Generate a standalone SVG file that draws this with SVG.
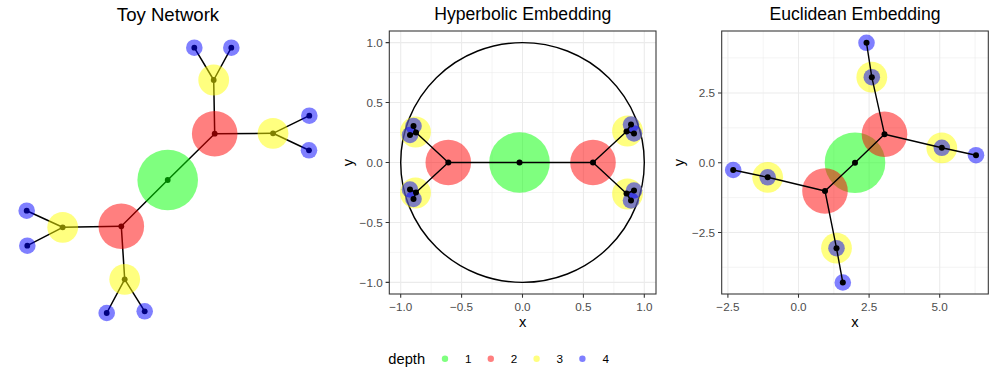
<svg xmlns="http://www.w3.org/2000/svg" width="996" height="378" viewBox="0 0 996 378">
<defs>
<style>
text{font-family:"Liberation Sans",Arial,sans-serif}
.title{font-size:17.6px;fill:#000;text-anchor:middle}
.tick{font-size:11.7px;fill:#4d4d4d}
.tx{text-anchor:middle}
.ty{text-anchor:end}
.atitle{font-size:14.7px;fill:#000;text-anchor:middle}
.leg{font-size:11.7px;fill:#000}
.gmaj{stroke:#ebebeb;stroke-width:1.07;fill:none}
.gmin{stroke:#ebebeb;stroke-width:0.53;fill:none}
.border{stroke:#333333;stroke-width:1.07;fill:none}
.tk{stroke:#333333;stroke-width:1.07}
.d1{fill:#00ff00;fill-opacity:0.5}
.d2{fill:#ff0000;fill-opacity:0.5}
.d3{fill:#ffff00;fill-opacity:0.5}
.d4{fill:#0000ff;fill-opacity:0.5}
.pt{fill:#000}
.edge{stroke:#000;stroke-width:1.4;fill:none;stroke-linecap:round}
</style>
</defs>
<rect width="996" height="378" fill="#fff"/>

<!-- ============ Toy Network ============ -->
<text class="title" x="168" y="20.7" style="font-size:18.6px">Toy Network</text>
<g id="toy-edges" class="edge" style="stroke-width:1.5">
<line x1="167.7" y1="180" x2="214.7" y2="133.7"/>
<line x1="167.7" y1="180" x2="121.3" y2="226.3"/>
<line x1="214.7" y1="133.7" x2="213.7" y2="80"/>
<line x1="214.7" y1="133.7" x2="273" y2="133.3"/>
<line x1="121.3" y1="226.3" x2="62.7" y2="227.3"/>
<line x1="121.3" y1="226.3" x2="124.7" y2="279.3"/>
<line x1="213.7" y1="80" x2="194.3" y2="47.7"/>
<line x1="213.7" y1="80" x2="231.3" y2="47.7"/>
<line x1="273" y1="133.3" x2="309.3" y2="115.7"/>
<line x1="273" y1="133.3" x2="309" y2="150.3"/>
<line x1="62.7" y1="227.3" x2="26.7" y2="210.7"/>
<line x1="62.7" y1="227.3" x2="27.3" y2="245.7"/>
<line x1="124.7" y1="279.3" x2="106.7" y2="313"/>
<line x1="124.7" y1="279.3" x2="144.7" y2="311.3"/>
</g>
<g id="toy-nodes">
<g id="toy-n1"><circle class="pt" cx="167.7" cy="180" r="2.9"/><circle class="d1" cx="167.7" cy="180" r="30.3"/></g>
<g id="toy-n2"><circle class="pt" cx="214.7" cy="133.7" r="2.9"/><circle class="d2" cx="214.7" cy="133.7" r="22.8"/></g>
<g id="toy-n3"><circle class="pt" cx="121.3" cy="226.3" r="2.9"/><circle class="d2" cx="121.3" cy="226.3" r="22.8"/></g>
<g id="toy-n4"><circle class="pt" cx="213.7" cy="80" r="2.9"/><circle class="d3" cx="213.7" cy="80" r="15.4"/></g>
<g id="toy-n5"><circle class="pt" cx="273" cy="133.3" r="2.9"/><circle class="d3" cx="273" cy="133.3" r="15.4"/></g>
<g id="toy-n6"><circle class="pt" cx="62.7" cy="227.3" r="2.9"/><circle class="d3" cx="62.7" cy="227.3" r="15.4"/></g>
<g id="toy-n7"><circle class="pt" cx="124.7" cy="279.3" r="2.9"/><circle class="d3" cx="124.7" cy="279.3" r="15.4"/></g>
<g id="toy-n8"><circle class="pt" cx="194.3" cy="47.7" r="2.9"/><circle class="d4" cx="194.3" cy="47.7" r="8.3"/></g>
<g id="toy-n9"><circle class="pt" cx="231.3" cy="47.7" r="2.9"/><circle class="d4" cx="231.3" cy="47.7" r="8.3"/></g>
<g id="toy-n10"><circle class="pt" cx="309.3" cy="115.7" r="2.9"/><circle class="d4" cx="309.3" cy="115.7" r="8.3"/></g>
<g id="toy-n11"><circle class="pt" cx="309" cy="150.3" r="2.9"/><circle class="d4" cx="309" cy="150.3" r="8.3"/></g>
<g id="toy-n12"><circle class="pt" cx="26.7" cy="210.7" r="2.9"/><circle class="d4" cx="26.7" cy="210.7" r="8.3"/></g>
<g id="toy-n13"><circle class="pt" cx="27.3" cy="245.7" r="2.9"/><circle class="d4" cx="27.3" cy="245.7" r="8.3"/></g>
<g id="toy-n14"><circle class="pt" cx="106.7" cy="313" r="2.9"/><circle class="d4" cx="106.7" cy="313" r="8.3"/></g>
<g id="toy-n15"><circle class="pt" cx="144.7" cy="311.3" r="2.9"/><circle class="d4" cx="144.7" cy="311.3" r="8.3"/></g>
</g>

<!-- ============ Hyperbolic Embedding ============ -->
<text class="title" x="522.7" y="20">Hyperbolic Embedding</text>
<g id="hyp-grid">
<path class="gmin" d="M431.15 31V294M492.05 31V294M552.95 31V294M613.85 31V294M389.3 72.6H656M389.3 132.5H656M389.3 192.5H656M389.3 252.4H656"/>
<path class="gmaj" d="M400.7 31V294M461.6 31V294M522.5 31V294M583.4 31V294M644.3 31V294M389.3 42.6H656M389.3 102.55H656M389.3 162.5H656M389.3 222.45H656M389.3 282.4H656"/>
</g>
<ellipse cx="522.5" cy="162.5" rx="121.8" ry="119.9" fill="none" stroke="#000" stroke-width="1.4"/>
<g id="hyp-nodes">
<g id="hyp-n1"><circle class="d1" cx="519.5" cy="162.5" r="30.3"/></g>
<g id="hyp-n2"><circle class="d2" cx="448.3" cy="162.5" r="22.8"/></g>
<g id="hyp-n3"><circle class="d2" cx="593" cy="162.5" r="22.8"/></g>
<g id="hyp-n4"><circle class="d3" cx="415.5" cy="132" r="15.4"/></g>
<g id="hyp-n5"><circle class="d3" cx="415.5" cy="193" r="15.4"/></g>
<g id="hyp-n6"><circle class="d3" cx="627.5" cy="131" r="15.4"/></g>
<g id="hyp-n7"><circle class="d3" cx="627.5" cy="194" r="15.4"/></g>
<g id="hyp-n8"><circle class="d4" cx="413.5" cy="126" r="8.3"/></g>
<g id="hyp-n9"><circle class="d4" cx="410" cy="135" r="8.3"/></g>
<g id="hyp-n10"><circle class="d4" cx="410" cy="189.5" r="8.3"/></g>
<g id="hyp-n11"><circle class="d4" cx="413.5" cy="199" r="8.3"/></g>
<g id="hyp-n12"><circle class="d4" cx="631" cy="124.5" r="8.3"/></g>
<g id="hyp-n13"><circle class="d4" cx="634" cy="133.5" r="8.3"/></g>
<g id="hyp-n14"><circle class="d4" cx="634" cy="190.5" r="8.3"/></g>
<g id="hyp-n15"><circle class="d4" cx="631" cy="200.5" r="8.3"/></g>
</g>
<g id="hyp-edges" class="edge">
<line x1="519.5" y1="162.5" x2="448.3" y2="162.5"/>
<line x1="519.5" y1="162.5" x2="593" y2="162.5"/>
<line x1="448.3" y1="162.5" x2="416" y2="132.5"/>
<line x1="448.3" y1="162.5" x2="416" y2="192.5"/>
<line x1="593" y1="162.5" x2="626.5" y2="131.5"/>
<line x1="593" y1="162.5" x2="626.5" y2="193.5"/>
<line x1="416" y1="132.5" x2="413.5" y2="126"/>
<line x1="416" y1="132.5" x2="410" y2="135"/>
<line x1="416" y1="192.5" x2="410" y2="189.5"/>
<line x1="416" y1="192.5" x2="413.5" y2="199"/>
<line x1="626.5" y1="131.5" x2="631" y2="124.5"/>
<line x1="626.5" y1="131.5" x2="634" y2="133.5"/>
<line x1="626.5" y1="193.5" x2="634" y2="190.5"/>
<line x1="626.5" y1="193.5" x2="631" y2="200.5"/>
</g>
<g id="hyp-points" class="pt">
<circle cx="519.5" cy="162.5" r="3"/><circle cx="448.3" cy="162.5" r="3"/><circle cx="593" cy="162.5" r="3"/>
<circle cx="416" cy="132.5" r="3"/><circle cx="416" cy="192.5" r="3"/><circle cx="626.5" cy="131.5" r="3"/><circle cx="626.5" cy="193.5" r="3"/>
<circle cx="413.5" cy="126" r="3"/><circle cx="410" cy="135" r="3"/><circle cx="410" cy="189.5" r="3"/><circle cx="413.5" cy="199" r="3"/>
<circle cx="631" cy="124.5" r="3"/><circle cx="634" cy="133.5" r="3"/><circle cx="634" cy="190.5" r="3"/><circle cx="631" cy="200.5" r="3"/>
</g>
<rect class="border" x="389.3" y="31" width="266.7" height="263"/>
<g id="hyp-axes">
<path class="tk" d="M400.7 294v3.7M461.6 294v3.7M522.5 294v3.7M583.4 294v3.7M644.3 294v3.7M389.3 42.6h-3.7M389.3 102.55h-3.7M389.3 162.5h-3.7M389.3 222.45h-3.7M389.3 282.4h-3.7"/>
<text class="tick tx" x="400.7" y="310.5">−1.0</text>
<text class="tick tx" x="461.6" y="310.5">−0.5</text>
<text class="tick tx" x="522.5" y="310.5">0.0</text>
<text class="tick tx" x="583.4" y="310.5">0.5</text>
<text class="tick tx" x="644.3" y="310.5">1.0</text>
<text class="tick ty" x="382.7" y="46.8">1.0</text>
<text class="tick ty" x="382.7" y="106.75">0.5</text>
<text class="tick ty" x="382.7" y="166.7">0.0</text>
<text class="tick ty" x="382.7" y="226.65">−0.5</text>
<text class="tick ty" x="382.7" y="286.6">−1.0</text>
<text class="atitle" x="522.7" y="327.3">x</text>
<text class="atitle" transform="translate(353,162.5) rotate(-90)">y</text>
</g>

<!-- ============ Euclidean Embedding ============ -->
<text class="title" x="855" y="20">Euclidean Embedding</text>
<g id="euc-grid">
<path class="gmin" d="M763.2 31V294M833.8 31V294M904.4 31V294M975.1 31V294M721.7 57.9H988.3M721.7 127.8H988.3M721.7 197.6H988.3M721.7 267.3H988.3"/>
<path class="gmaj" d="M727.9 31V294M798.5 31V294M869.1 31V294M939.7 31V294M721.7 92.95H988.3M721.7 162.7H988.3M721.7 232.45H988.3"/>
</g>
<g id="euc-nodes">
<g id="euc-n1"><circle class="d1" cx="855" cy="162.7" r="30.3"/></g>
<g id="euc-n2"><circle class="d2" cx="884.5" cy="134.2" r="22.8"/></g>
<g id="euc-n3"><circle class="d2" cx="825" cy="191" r="22.8"/></g>
<g id="euc-n4"><circle class="d3" cx="871.8" cy="77.2" r="15.4"/></g>
<g id="euc-n5"><circle class="d3" cx="941.8" cy="147.8" r="15.4"/></g>
<g id="euc-n6"><circle class="d3" cx="767.7" cy="177.3" r="15.4"/></g>
<g id="euc-n7"><circle class="d3" cx="836.5" cy="248.2" r="15.4"/></g>
<g id="euc-n8"><circle class="d4" cx="866.5" cy="42.8" r="8.3"/></g>
<g id="euc-n9"><circle class="d4" cx="871.8" cy="77.2" r="8.3"/></g>
<g id="euc-n10"><circle class="d4" cx="976" cy="155.2" r="8.3"/></g>
<g id="euc-n11"><circle class="d4" cx="941.8" cy="147.8" r="8.3"/></g>
<g id="euc-n12"><circle class="d4" cx="733.2" cy="170" r="8.3"/></g>
<g id="euc-n13"><circle class="d4" cx="767.7" cy="177.3" r="8.3"/></g>
<g id="euc-n14"><circle class="d4" cx="842.8" cy="282.5" r="8.3"/></g>
<g id="euc-n15"><circle class="d4" cx="836.5" cy="248.2" r="8.3"/></g>
</g>
<g id="euc-edges" class="edge">
<line x1="855" y1="162.7" x2="884.5" y2="134.2"/>
<line x1="855" y1="162.7" x2="825" y2="191"/>
<line x1="884.5" y1="134.2" x2="871.8" y2="77.2"/>
<line x1="884.5" y1="134.2" x2="941.8" y2="147.8"/>
<line x1="825" y1="191" x2="767.7" y2="177.3"/>
<line x1="825" y1="191" x2="836.5" y2="248.2"/>
<line x1="871.8" y1="77.2" x2="866.5" y2="42.8"/>
<line x1="941.8" y1="147.8" x2="976" y2="155.2"/>
<line x1="767.7" y1="177.3" x2="733.2" y2="170"/>
<line x1="836.5" y1="248.2" x2="842.8" y2="282.5"/>
</g>
<g id="euc-points" class="pt">
<circle cx="855" cy="162.7" r="3"/><circle cx="884.5" cy="134.2" r="3"/><circle cx="825" cy="191" r="3"/>
<circle cx="871.8" cy="77.2" r="3"/><circle cx="941.8" cy="147.8" r="3"/><circle cx="767.7" cy="177.3" r="3"/><circle cx="836.5" cy="248.2" r="3"/>
<circle cx="866.5" cy="42.8" r="3"/><circle cx="976" cy="155.2" r="3"/><circle cx="733.2" cy="170" r="3"/><circle cx="842.8" cy="282.5" r="3"/>
</g>
<rect class="border" x="721.7" y="31" width="266.6" height="263"/>
<g id="euc-axes">
<path class="tk" d="M727.9 294v3.7M798.5 294v3.7M869.1 294v3.7M939.7 294v3.7M721.7 92.95h-3.7M721.7 162.7h-3.7M721.7 232.45h-3.7"/>
<text class="tick tx" x="727.9" y="310.5">−2.5</text>
<text class="tick tx" x="798.5" y="310.5">0.0</text>
<text class="tick tx" x="869.1" y="310.5">2.5</text>
<text class="tick tx" x="939.7" y="310.5">5.0</text>
<text class="tick ty" x="715" y="97.15">2.5</text>
<text class="tick ty" x="715" y="166.9">0.0</text>
<text class="tick ty" x="715" y="236.65">−2.5</text>
<text class="atitle" x="855" y="327.3">x</text>
<text class="atitle" transform="translate(684,162.7) rotate(-90)">y</text>
</g>

<!-- ============ Legend ============ -->
<g id="legend">
<text x="388.3" y="363.5" style="font-size:14.7px;fill:#000">depth</text>
<circle class="d1" cx="445" cy="358.7" r="3.2"/>
<text class="leg" x="465" y="363.3">1</text>
<circle class="d2" cx="490.8" cy="358.7" r="3.2"/>
<text class="leg" x="510.8" y="363.3">2</text>
<circle class="d3" cx="536.6" cy="358.7" r="3.2"/>
<text class="leg" x="556.6" y="363.3">3</text>
<circle class="d4" cx="582.4" cy="358.7" r="3.2"/>
<text class="leg" x="602.4" y="363.3">4</text>
</g>
</svg>
